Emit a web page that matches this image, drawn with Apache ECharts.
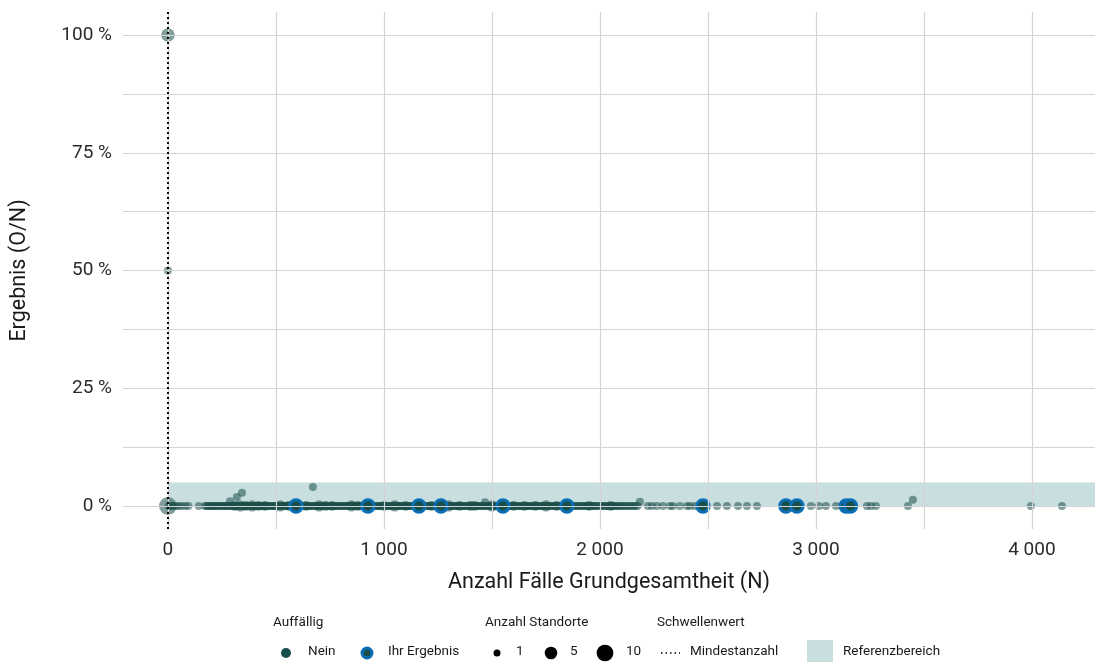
<!DOCTYPE html>
<html><head><meta charset="utf-8">
<script src="https://cdn.jsdelivr.net/npm/echarts@6/dist/echarts.min.js"></script>
<style>html,body{margin:0;padding:0;background:#fff}#c{width:1095px;height:662px}</style>
</head><body><div id="c"></div>
<script>
// ---- axis ticks / grid ----
const xTicks = [0, 1000, 2000, 3000, 4000];
const yTicks = [0, 25, 50, 75, 100];
const xGridLines = [0, 500, 1000, 1500, 2000, 2500, 3000, 3500, 4000];
const yGridLines = [0, 12.5, 25, 37.5, 50, 62.5, 75, 87.5, 100];
const referenzMin = 0, referenzMax = 5;   // Referenzbereich in %
const mindestanzahl = 0;                  // Schwellenwert N

// ---- "Nein" points with result 0 %, 1 Standort each (N) ----
const neinZeroN = [3, 12, 22, 35, 48, 62, 80, 95, 143, 172, 185, 198, 210, 222, 236, 250, 262, 275, 290, 300, 312,
  325, 338, 350, 362, 371, 385, 398, 410, 424, 436, 448, 460, 473, 486, 498, 510, 523, 536, 549, 560, 574, 587,
  605, 618, 630, 643, 655, 668, 682, 694, 707, 720, 733, 746, 758, 770, 784, 797, 810, 822, 836, 848, 861, 874,
  887, 900, 915, 940, 952, 965, 978, 990, 1003, 1016, 1030, 1042, 1055, 1068, 1080, 1094, 1107, 1120, 1133, 1146,
  1180, 1193, 1206, 1219, 1232, 1245, 1280, 1293, 1306, 1320, 1333, 1347, 1360, 1372, 1386, 1398, 1412, 1425,
  1438, 1452, 1465, 1478, 1492, 1505, 1518, 1532, 1570, 1585, 1598, 1612, 1626, 1640, 1655, 1668, 1682, 1696,
  1710, 1724, 1738, 1752, 1766, 1780, 1795, 1810, 1824, 1868, 1882, 1897, 1912, 1928, 1944, 1960, 1975, 1990,
  2006, 2022, 2037, 2052, 2068, 2084, 2100, 2118, 2136, 2155, 2174, 2222, 2241, 2264, 2292, 2324, 2338, 2370,
  2403, 2417, 2440, 2542, 2588, 2639, 2681, 2727, 2977, 3014, 3046, 3093, 3236, 3255, 3278, 3426, 3995, 4139];

// further "Nein" locations at 0 % in the dense part (N)
const neinZeroN2 = [178, 191, 204, 216, 229, 243, 256, 268, 282, 295, 306, 318, 331, 344, 356, 366, 378, 391, 404,
  417, 430, 442, 454, 466, 480, 492, 504, 516, 530, 542, 555, 567, 580, 596, 611, 624, 636, 649, 661, 675, 688, 700,
  713, 726, 740, 752, 764, 777, 790, 803, 816, 829, 842, 854, 867, 880, 893, 907, 928, 946, 958, 971, 984, 997,
  1010, 1023, 1036, 1048, 1061, 1074, 1087, 1100, 1113, 1126, 1139, 1172, 1186, 1199, 1212, 1225, 1238, 1252,
  1273, 1286, 1299, 1313, 1326, 1340, 1353, 1366, 1379, 1392, 1405, 1418, 1431, 1445, 1458, 1471, 1485, 1498,
  1511, 1525, 1540, 1562, 1577, 1591, 1605, 1619, 1633, 1647, 1661, 1675, 1689, 1703, 1717, 1731, 1745, 1759,
  1773, 1787, 1802, 1817, 1832, 1860, 1875, 1890, 1905, 1920, 1936, 1952, 1967, 1982, 1998, 2014, 2030, 2045,
  2060, 2076, 2092, 2109, 2127, 2146, 2165];

// ---- "Nein" points: other values / sizes (N, Ergebnis %, Anzahl Standorte) ----
const neinOtherN = [0, 0, 0, 287, 319, 343, 671, 1468, 2185, 3449,
  310, 335, 360, 390, 420, 450, 520, 560, 640, 700, 730, 760, 850, 880, 1000, 1050, 1100, 1150,
  1220, 1300, 1350, 1400, 1420, 1500, 1600, 1650, 1700, 1750, 1800, 1950, 2050];
const neinOtherValue = [100, 50, 0, 1.0, 1.9, 2.8, 4.0, 0.8, 0.9, 1.3,
  0, 0, 0, 0, 0, 0, 0, 0, 0, 0, 0, 0, 0, 0, 0, 0, 0, 0,
  0, 0, 0, 0, 0, 0, 0, 0, 0, 0, 0, 0, 0];
const neinOtherStandorte = [5, 1, 10, 1, 1, 1, 1, 1, 1, 1,
  2, 3, 2, 3, 2, 2, 3, 2, 2, 3, 2, 2, 3, 2, 2, 3, 2, 2,
  2, 3, 2, 2, 2, 3, 2, 2, 2, 3, 2, 2, 2];

// ---- "Ihr Ergebnis" points ----
const resultN         = [593, 926, 1162, 1264, 1551, 1847, 2477, 2861, 2912, 3140, 3160];
const resultValue     = [0, 0, 0, 0, 0, 0, 0, 0, 0, 0, 0];
const resultStandorte = [4, 4, 4, 4, 4, 4, 4, 4, 4, 4, 4];

// legend size examples
const sizeLegend = [1, 5, 10];

const X_MIN = -208, X_MAX = 4292, Y_MIN = -4.9, Y_MAX = 104.9;
const TEAL = '#194f4b', BLUE = '#0b6fb6', BAND = '#c9dedf', GRID = '#d4d4d4';
const FONT = 'Roboto';
const LEG_FONT = '13.5px ' + FONT;

function sz(n) { return 3.5 + 4.5 * Math.sqrt(n); }

const neinData = neinZeroN.concat(neinZeroN2).map(n => [n, 0, 1])
  .concat(neinOtherN.map((n, i) => [n, neinOtherValue[i], neinOtherStandorte[i]]));
const resultData = resultN.map((n, i) => [n, resultValue[i], resultStandorte[i]]);

function fmtThousands(v) {
  return String(v).replace(/\B(?=(\d{3})+(?!\d))/g, ' ');
}

const chart = echarts.init(document.getElementById('c'), null, {renderer: 'canvas'});

function txt(x, y, s) {
  return {type: 'text', left: x, top: y, style: {text: s, font: LEG_FONT, fill: '#1a1a1a'}};
}
const legendGraphics = [
  txt(273, 616, 'Auffällig'),
  {type: 'circle', shape: {cx: 286, cy: 653, r: 5}, style: {fill: TEAL}},
  txt(308, 645, 'Nein'),
  {type: 'circle', shape: {cx: 367, cy: 653, r: 5}, style: {fill: TEAL, stroke: BLUE, lineWidth: 3}},
  txt(388, 645, 'Ihr Ergebnis'),
  txt(485, 616, 'Anzahl Standorte'),
  {type: 'circle', shape: {cx: 497, cy: 653, r: sz(sizeLegend[0]) / 2 - 0.5}, style: {fill: '#000'}},
  txt(516, 645, String(sizeLegend[0])),
  {type: 'circle', shape: {cx: 551, cy: 653, r: sz(sizeLegend[1]) / 2 - 0.5}, style: {fill: '#000'}},
  txt(570, 645, String(sizeLegend[1])),
  {type: 'circle', shape: {cx: 605, cy: 653, r: sz(sizeLegend[2]) / 2 - 0.5}, style: {fill: '#000'}},
  txt(626, 645, String(sizeLegend[2])),
  txt(657, 616, 'Schwellenwert'),
  {type: 'line', shape: {x1: 661, y1: 653, x2: 680, y2: 653}, style: {stroke: '#000', lineWidth: 1.5, lineDash: [1.5, 3]}},
  txt(690, 645, 'Mindestanzahl'),
  {type: 'rect', shape: {x: 807, y: 640, width: 26, height: 23}, style: {fill: BAND}},
  txt(843, 645, 'Referenzbereich')
];

const option = {
  backgroundColor: '#fff',
  animation: false,
  textStyle: {fontFamily: FONT},
  grid: {left: 123, right: 0, top: 12, bottom: 133, containLabel: false, outerBoundsMode: 'none'},
  xAxis: {
    type: 'value', min: X_MIN, max: X_MAX,
    name: 'Anzahl Fälle Grundgesamtheit (N)', nameLocation: 'middle', nameGap: 43,
    nameTextStyle: {fontSize: 21.5, color: '#1a1a1a', fontFamily: FONT},
    axisLine: {show: false}, axisTick: {show: false}, splitLine: {show: false},
    axisLabel: {customValues: xTicks, formatter: v => fmtThousands(v), fontSize: 19, color: '#2b2b2b', margin: 12, fontFamily: FONT}
  },
  yAxis: {
    type: 'value', min: Y_MIN, max: Y_MAX,
    name: 'Ergebnis (O/N)', nameLocation: 'middle', nameGap: 92, nameRotate: 90,
    nameTextStyle: {fontSize: 21.5, color: '#1a1a1a', fontFamily: FONT},
    axisLine: {show: false}, axisTick: {show: false}, splitLine: {show: false},
    axisLabel: {customValues: yTicks, formatter: v => v + ' %', fontSize: 19, color: '#2b2b2b', margin: 11, fontFamily: FONT}
  },
  graphic: legendGraphics,
  series: [
    { // reference band
      type: 'scatter', data: [], z: 1, silent: true,
      markArea: {silent: true, itemStyle: {color: BAND, opacity: 1},
        data: [[{coord: [mindestanzahl, referenzMin]}, {coord: [X_MAX, referenzMax]}]]}
    },
    { // grid lines
      type: 'scatter', data: [], z: 2, silent: true,
      markLine: {silent: true, symbol: 'none', label: {show: false}, animation: false,
        lineStyle: {color: GRID, width: 1.2, type: 'solid'},
        data: xGridLines.map(v => ({xAxis: v})).concat(yGridLines.map(v => ({yAxis: v})))}
    },
    {
      name: 'Nein', type: 'scatter', z: 3, data: neinData, large: false, progressive: 0,
      symbolSize: d => sz(d[2]),
      itemStyle: {color: TEAL, opacity: 0.55}
    },
    {
      name: 'Ihr Ergebnis', type: 'scatter', z: 4, data: resultData,
      symbolSize: d => sz(d[2]),
      itemStyle: {color: TEAL, opacity: 1, borderColor: BLUE, borderWidth: 3}
    },
    { // Mindestanzahl threshold
      type: 'scatter', data: [], z: 5, silent: true,
      markLine: {silent: true, symbol: 'none', label: {show: false}, animation: false,
        lineStyle: {color: '#000', width: 2, type: [2, 3]},
        data: [{xAxis: mindestanzahl}]}
    }
  ]
};
chart.setOption(option);
</script></body></html>
